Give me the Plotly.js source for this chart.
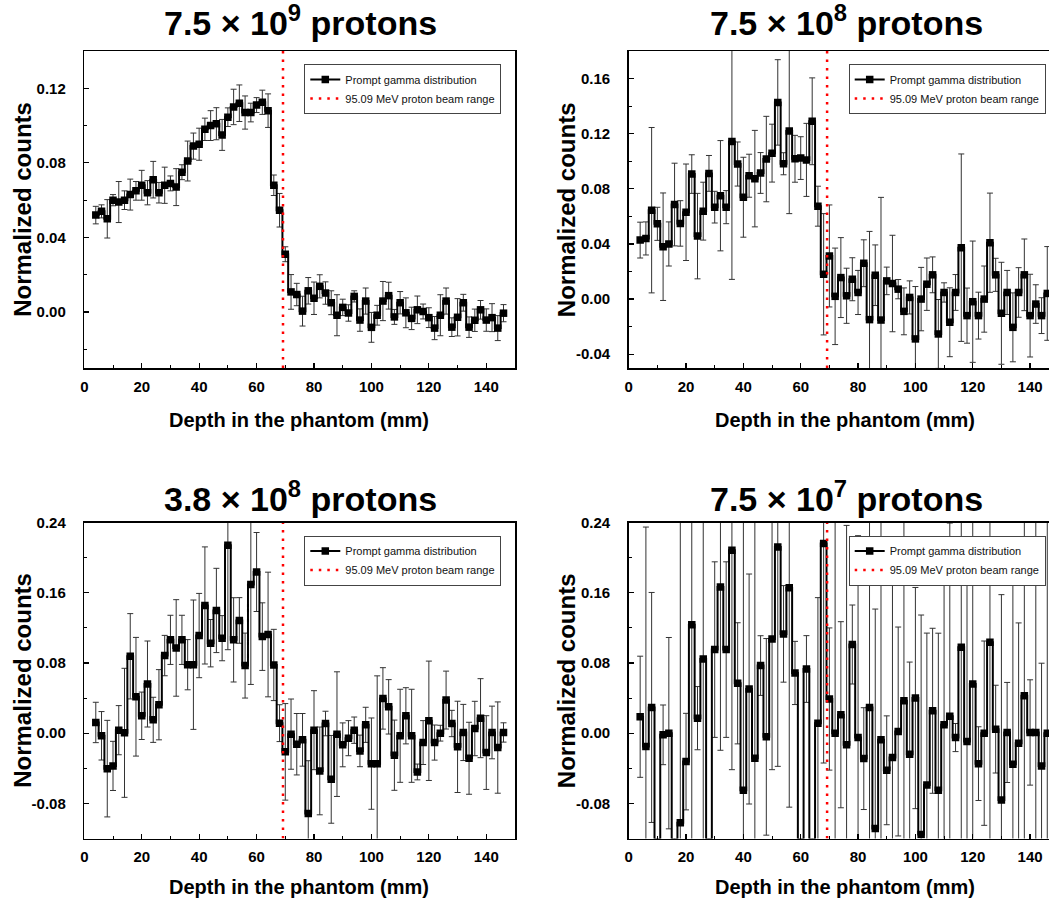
<!DOCTYPE html>
<html><head><meta charset="utf-8">
<script src="https://cdn.plot.ly/plotly-3.0.1.min.js"></script>
<style>html,body{margin:0;padding:0;background:#fff}#chart{width:1049px;height:900px}</style>
</head><body><div id="chart"></div>
<script>
// ---------- DATA ----------
const depth = [4,6,8,10,12,14,16,18,20,22,24,26,28,30,32,34,36,38,40,42,44,46,48,50,52,54,56,58,60,62,64,66,68,70,
  72,74,76,78,80,82,84,86,88,90,92,94,96,98,100,102,104,106,108,110,112,114,116,118,120,122,124,126,128,130,132,134,136,138,140,142,144,146];

const counts_7p5e9 = [0.052,0.054,0.050,0.060,0.059,0.060,0.063,0.065,0.068,0.064,0.071,0.064,0.068,0.069,0.067,0.075,0.081,0.089,0.090,0.098,0.100,0.101,0.095,0.1045,0.110,0.112,0.107,0.107,0.111,0.1125,0.108,0.068,0.0546,0.031,
  0.0108,0.0094,0.0005,0.0114,0.0074,0.0138,0.0102,0.005,-0.0017,0.0025,-0.0005,0.0084,-0.0043,0.0059,-0.0082,-0.0017,0.0059,0.0088,-0.0026,0.005,-0.0004,-0.0034,0.0012,0.0003,-0.003,-0.0086,-0.0017,0.0059,-0.0081,-0.0028,0.005,-0.0081,-0.0044,0.0012,-0.0043,-0.003,-0.0086,-0.0006];
const errors_7p5e9 = [0.0047,0.0035,0.0103,0.003,0.011,0.005,0.0083,0.005,0.008,0.0065,0.0098,0.0055,0.0097,0.004,0.0099,0.004,0.0107,0.007,0.0086,0.006,0.008,0.0086,0.0083,0.005,0.0095,0.0098,0.0089,0.005,0.004,0.0065,0.009,0.0055,0.009,0.004,
  0.0093,0.006,0.008,0.0071,0.0087,0.0062,0.006,0.0064,0.011,0.0044,0.0044,0.003,0.006,0.007,0.008,0.0053,0.0105,0.0072,0.004,0.006,0.008,0.006,0.0074,0.004,0.0053,0.0062,0.011,0.007,0.005,0.01,0.0045,0.0055,0.006,0.005,0.006,0.0075,0.0067,0.0046];

const counts_7p5e8 = [0.0428,0.044,0.0645,0.0546,0.038,0.040,0.0686,0.0549,0.063,0.0907,0.0457,0.0638,0.0912,0.0667,0.075,0.0667,0.1143,0.098,0.0739,0.0895,0.0874,0.0915,0.1016,0.1059,0.1427,0.0982,0.122,0.1018,0.1023,0.101,0.129,0.0674,0.018,0.0313,0.002,
  0.0156,0.0024,0.0144,0.0048,0.026,-0.0149,0.0173,-0.0152,0.0132,0.0113,0.0072,-0.0089,0.0012,-0.0289,0.0,0.0108,0.0176,-0.0253,0.0048,-0.0168,0.0048,0.0373,-0.012,-0.0019,-0.012,0.0,0.0409,0.0176,-0.0103,0.0048,-0.0205,0.0048,0.0176,-0.012,-0.0036,-0.012,0.0041];
const errors_7p5e8 = [0.013,0.012,0.060,0.012,0.039,0.016,0.030,0.0165,0.035,0.014,0.031,0.021,0.013,0.0115,0.040,0.012,0.10,0.016,0.029,0.0156,0.035,0.0148,0.031,0.021,0.031,0.008,0.06,0.017,0.0155,0.0265,0.0315,0.0145,0.044,0.037,0.035,
  0.029,0.02,0.0156,0.016,0.017,0.064,0.022,0.089,0.01,0.035,0.007,0.017,0.012,0.038,0.023,0.019,0.013,0.025,0.007,0.025,0.013,0.068,0.02,0.044,0.017,0.024,0.036,0.012,0.037,0.016,0.025,0.018,0.026,0.03,0.014,0.013,0.034];

const counts_3p8e8 = [0.0122,-0.003,-0.0404,-0.0373,0.0034,0.0004,0.0876,0.0415,0.0198,0.056,0.0152,0.0324,0.0884,0.1063,0.0971,0.1063,0.078,0.078,0.1112,0.1455,0.1025,0.1398,0.1082,0.2141,0.1063,0.1284,0.077,0.1695,0.1836,0.110,0.1124,0.0777,0.0114,-0.0213,-0.0011,
  -0.0126,-0.0076,-0.0914,0.0034,-0.043,0.011,-0.0526,-0.0011,-0.0133,-0.0057,0.0034,-0.0202,0.0095,-0.0347,-0.0347,0.0396,0.030,-0.0251,-0.003,0.0198,-0.003,-0.0442,-0.0107,0.0141,-0.0107,0.0,0.0377,0.011,-0.0156,0.0008,-0.0286,0.0053,0.0171,-0.0221,0.0008,-0.0164,0.0008];
const errors_3p8e8 = [0.023,0.0276,0.055,0.028,0.028,0.0735,0.0486,0.0676,0.027,0.049,0.0257,0.04,0.023,0.028,0.055,0.028,0.0286,0.0737,0.048,0.0667,0.027,0.048,0.0257,0.119,0.048,0.026,0.037,0.114,0.045,0.0385,0.071,0.0406,0.021,0.055,0.04,
  0.035,0.03,0.06,0.045,0.05,0.014,0.05,0.071,0.025,0.02,0.015,0.018,0.02,0.052,0.1,0.035,0.031,0.04,0.053,0.032,0.053,0.009,0.025,0.068,0.02,0.009,0.033,0.015,0.052,0.032,0.041,0.031,0.045,0.042,0.03,0.052,0.011];

const counts_7p5e7 = [0.0187,-0.0152,0.0293,-0.14,-0.0019,0.0,-0.14,-0.1021,-0.0324,0.1234,0.0171,0.0846,-0.14,0.0952,0.1665,0.0952,0.2084,0.0568,-0.0651,0.0503,-0.0286,0.077,-0.0042,0.1074,0.2122,0.1131,0.1657,0.0686,-0.14,0.0731,-0.14,0.0114,0.216,0.0389,0.0,
  0.021,-0.0133,0.101,-0.005,-0.029,0.0293,-0.1086,-0.0076,-0.0423,-0.0278,0.0019,0.037,-0.024,0.04,-0.1154,-0.059,0.0255,-0.0651,0.0095,0.0194,-0.005,0.0979,-0.0095,0.056,-0.0347,0.0,0.1036,0.0046,-0.0762,0.0008,-0.0354,-0.0114,0.0427,0.0008,0.0008,-0.0373,0.0];
const errors_7p5e7 = [0.069,0.25,0.131,0.02,0.034,0.109,0.02,0.35,0.055,0.25,0.036,0.25,0.02,0.1,0.186,0.1,0.25,0.069,0.31,0.131,0.27,0.034,0.112,0.149,0.25,0.055,0.25,0.036,0.02,0.038,0.02,0.143,0.25,0.081,0.25,
  0.106,0.25,0.045,0.23,0.058,0.25,0.25,0.25,0.062,0.25,0.119,0.25,0.105,0.126,0.25,0.173,0.094,0.179,0.2,0.22,0.016,0.25,0.2,0.2,0.042,0.105,0.25,0.05,0.234,0.057,0.25,0.137,0.25,0.06,0.25,0.117,0.25];

const beamRange = 69.2; // mm
const panelTitles = ["7.5 × 10<sup>9</sup> protons","7.5 × 10<sup>8</sup> protons","3.8 × 10<sup>8</sup> protons","7.5 × 10<sup>7</sup> protons"];
const legendNames = ["Prompt gamma distribution","95.09 MeV proton beam range"];
const xTitle = "Depth in the phantom (mm)";
const yTitle = "Normalized counts";

const xTickVals = [0,20,40,60,80,100,120,140];
const xTickText = ["0","20","40","60","80","100","120","140"];
const yTickVals_a = [0,0.04,0.08,0.12];
const yTickText_a = ["0.00","0.04","0.08","0.12"];
const yTickVals_b = [-0.04,0,0.04,0.08,0.12,0.16];
const yTickText_b = ["-0.04","0.00","0.04","0.08","0.12","0.16"];
const yTickVals_c = [-0.08,0,0.08,0.16,0.24];
const yTickText_c = ["-0.08","0.00","0.08","0.16","0.24"];

// ---------- LAYOUT HELPERS ----------
const W = 1049, H = 900;
const FONT = "Liberation Sans, Arial, sans-serif";
const panels = [
  {y: counts_7p5e9, e: errors_7p5e9, box:[84.3,515,51,368],   xr:[0,150],   yr:[-0.03,0.14], tv:yTickVals_a, tt:yTickText_a, ymin:0.02, right:false, ty:21, xty:420},
  {y: counts_7p5e8, e: errors_7p5e8, box:[628.7,1049,51,368], xr:[0,146.6], yr:[-0.05,0.18], tv:yTickVals_b, tt:yTickText_b, ymin:0.02, right:true,  ty:21, xty:420},
  {y: counts_3p8e8, e: errors_3p8e8, box:[84.3,515,522.5,838.5],   xr:[0,150],   yr:[-0.12,0.24], tv:yTickVals_c, tt:yTickText_c, ymin:0.04, right:false, ty:496, xty:887},
  {y: counts_7p5e7, e: errors_7p5e7, box:[628.7,1049,522.5,838.5], xr:[0,146.6], yr:[-0.12,0.24], tv:yTickVals_c, tt:yTickText_c, ymin:0.04, right:true,  ty:496, xty:887}
];

const traces = [];
const layout = {
  width: W, height: H, margin: {l:0, r:0, t:0, b:0},
  paper_bgcolor: "#fff", plot_bgcolor: "#fff",
  showlegend: true, font: {family: FONT, color: "#000"},
  annotations: []
};

panels.forEach((p, i) => {
  const n = i === 0 ? "" : String(i + 1);
  const xa = "x" + n, ya = "y" + n;
  const lg = "legend" + n;
  traces.push({
    type: "scatter", mode: "lines+markers", x: depth, y: p.y, xaxis: xa, yaxis: ya, legend: lg,
    name: legendNames[0],
    line: {shape: "hvh", color: "#000", width: 2},
    marker: {symbol: "square", size: 7.5, color: "#000"},
    error_y: {type: "data", array: p.e, visible: true, color: "#333", thickness: 1, width: 3}
  });
  traces.push({
    type: "scatter", mode: "lines", x: [beamRange, beamRange], y: p.yr, xaxis: xa, yaxis: ya, legend: lg,
    name: legendNames[1],
    line: {color: "#ff0000", width: 2.5, dash: "2.5px,6px"}
  });
  const [x0, x1, yt, yb] = p.box;
  const axCommon = {
    showline: true, linecolor: "#000", linewidth: 1.5, ticks: "inside", ticklen: 5, tickwidth: 1.2,
    tickcolor: "#000", showgrid: false, zeroline: false, fixedrange: true,
    tickfont: {family: FONT, size: 15, color: "#000", weight: "bold"}
  };
  layout["xaxis" + n] = Object.assign({}, axCommon, {
    domain: [x0 / W, x1 / W], range: p.xr, anchor: ya, mirror: true,
    tickmode: "array", tickvals: xTickVals, ticktext: xTickText, ticklabelstandoff: 4,
    minor: {tickmode: "linear", tick0: 0, dtick: 10, ticks: "inside", ticklen: 3, tickcolor: "#000", tickwidth: 1}
  });
  layout["yaxis" + n] = Object.assign({}, axCommon, {
    domain: [1 - yb / H, 1 - yt / H], range: p.yr, anchor: xa, mirror: !p.right,
    tickmode: "array", tickvals: p.tv, ticktext: p.tt, ticklabelstandoff: 14,
    minor: {tickmode: "linear", tick0: 0, dtick: p.ymin, ticks: "inside", ticklen: 3, tickcolor: "#000", tickwidth: 1}
  });
  layout[lg] = {
    x: (x0 + 220) / W, y: 1 - (yt + 13) / H, xanchor: "left", yanchor: "top",
    bgcolor: "#fff", bordercolor: "#444", borderwidth: 1,
    font: {family: FONT, size: 11, color: "#111"}, itemwidth: 30, tracegroupgap: 0
  };
  const cx = p.right ? 846 : 300;
  layout.annotations.push({
    text: "<b>" + panelTitles[i] + "</b>", xref: "paper", yref: "paper",
    x: cx / W, y: 1 - p.ty / H, xanchor: "center", yanchor: "middle", showarrow: false,
    font: {family: FONT, size: 34, color: "#000"}
  });
  layout.annotations.push({
    text: "<b>" + xTitle + "</b>", xref: "paper", yref: "paper",
    x: ((p.right ? 845 : 299)) / W, y: 1 - p.xty / H, xanchor: "center", yanchor: "middle", showarrow: false,
    font: {family: FONT, size: 20, color: "#000"}
  });
  layout.annotations.push({
    text: "<b>" + yTitle + "</b>", xref: "paper", yref: "paper", textangle: -90,
    x: (x0 - 62) / W, y: 1 - ((yt + yb) / 2) / H, xanchor: "center", yanchor: "middle", showarrow: false,
    font: {family: FONT, size: 24, color: "#000"}
  });
});

Plotly.newPlot("chart", traces, layout, {displayModeBar: false, staticPlot: true});
</script></body></html>
